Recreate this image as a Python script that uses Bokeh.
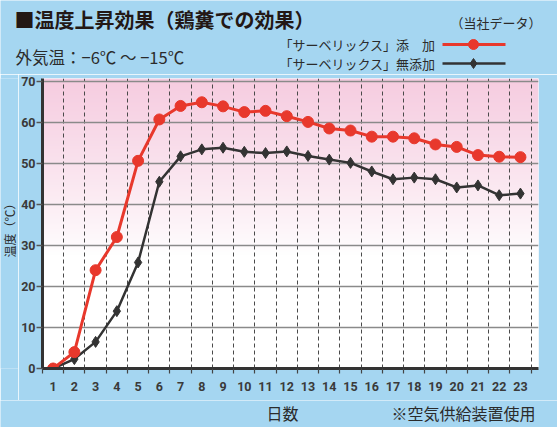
import numpy as np
from bokeh.plotting import figure
from bokeh.layouts import column, row
from bokeh.models import FixedTicker, Range1d
from bokeh.core.properties import value
from bokeh.embed import file_html
from bokeh.resources import INLINE

# ---- data ----
days = list(range(1, 24))
added = [0.0, 4.0, 24.0, 32.1, 50.7, 60.8, 64.1, 65.0, 64.0, 62.6, 62.9, 61.6,
         60.2, 58.6, 58.1, 56.6, 56.6, 56.2, 54.7, 54.1, 52.1, 51.7, 51.6]
no_added = [0.0, 2.3, 6.5, 14.0, 25.9, 45.6, 51.8, 53.5, 53.9, 52.9, 52.6, 53.0,
            51.9, 51.0, 50.2, 48.1, 46.2, 46.6, 46.2, 44.2, 44.7, 42.3, 42.7]
y_ticks = [0, 10, 20, 30, 40, 50, 60, 70]
x_labels = [str(d) for d in days]
series_names = ["「サーベリックス」添\u3000加", "「サーベリックス」無添加"]
title_text = "■温度上昇効果（鶏糞での効果）"
source_text = "（当社データ）"
temp_text = "外気温：−6℃ ～ −15℃"
y_title = "温度（℃）"
x_title = "日数"
note_text = "※空気供給装置使用"

RED = "#e8382c"
BLK = "#333333"
TXT = "#2b2b2b"
SKY = "#a5d6f1"
JP = "Noto Sans CJK JP"
W = 557
YLAB_W = 18
HEAD_H = 74
FOOT_H = 27
TOP_B, BOT_B = 4, 32
MAIN_H = 427 - HEAD_H - FOOT_H          # 326
FRAME_H = MAIN_H - TOP_B - BOT_B        # 290

X0, X1 = 0.5, 23.85
Y0, Y1 = 0.0, 70.8


def panel(w, h, **kw):
    f = figure(width=w, height=h, x_range=Range1d(0, w), y_range=Range1d(h, 0),
               x_axis_type=None, y_axis_type=None, output_backend="svg",
               toolbar_location=None, title=None, **kw)
    f.grid.visible = False
    f.outline_line_color = None
    f.background_fill_color = SKY
    f.border_fill_color = SKY
    return f


# ---- header ----
head = panel(W, HEAD_H, min_border=0)
head.text(x=[14], y=[19], text=[title_text], text_align="left", text_baseline="middle",
          text_font=value(JP), text_font_size=value("20px"), text_font_style="bold",
          text_color="#231815")
head.text(x=[541], y=[22], text=[source_text], text_align="right", text_baseline="middle",
          text_font=value(JP), text_font_size=value("13px"), text_color=TXT)
head.text(x=[15], y=[56], text=[temp_text], text_align="left", text_baseline="middle",
          text_font=value(JP), text_font_size=value("16.5px"), text_color=TXT)
head.text(x=[435, 435], y=[44, 63], text=series_names, text_align="right",
          text_baseline="middle", text_font=value(JP), text_font_size=value("13px"),
          text_color=TXT)
head.segment(x0=[442], y0=[44], x1=[505], y1=[44], line_color=RED, line_width=2.8)
head.segment(x0=[442], y0=[63], x1=[505], y1=[63], line_color=BLK, line_width=2.4)
head.scatter(x=[473], y=[44], marker="circle", size=10, fill_color=RED, line_color=RED)
head.scatter(x=[473], y=[63], marker="diamond", size=10, fill_color=BLK, line_color=BLK)

# ---- y title strip ----
ylab = figure(width=YLAB_W, height=MAIN_H, x_range=Range1d(0, YLAB_W),
              y_range=Range1d(FRAME_H, 0), x_axis_type=None, y_axis_type=None,
              output_backend="svg", toolbar_location=None, title=None,
              min_border_left=0, min_border_right=0, min_border_top=TOP_B,
              min_border_bottom=BOT_B)
ylab.grid.visible = False
ylab.outline_line_color = None
ylab.background_fill_color = SKY
ylab.border_fill_color = SKY
ylab.text(x=[YLAB_W / 2], y=[227 - HEAD_H - TOP_B], text=[y_title], angle=np.pi / 2,
          text_align="center", text_baseline="middle", text_font=value(JP),
          text_font_size=value("12px"), text_color=TXT)

# ---- main chart ----
p = figure(width=W - YLAB_W, height=MAIN_H, output_backend="svg", toolbar_location=None,
           x_range=(X0, X1), y_range=(Y0, Y1), title=None,
           min_border_left=40 - YLAB_W, min_border_right=19, min_border_top=TOP_B,
           min_border_bottom=BOT_B)
p.border_fill_color = SKY
p.background_fill_color = "white"
p.outline_line_color = None

# pink -> white gradient background of the plot area
n = 256
img = np.empty((n, 2), dtype=np.uint32)
view = img.view(dtype=np.uint8).reshape((n, 2, 4))
yy = (np.arange(n) + 0.5) / n * (Y1 - Y0) + Y0
t = np.clip((yy - 28.0) / (Y1 - 28.0), 0, 1) ** 0.85
top = np.array([246, 204, 224])
for k in range(3):
    view[:, :, k] = (255 * (1 - t) + top[k] * t)[:, None].astype(np.uint8)
view[:, :, 3] = 255
p.image_rgba(image=[img], x=X0, y=Y0, dw=X1 - X0, dh=Y1 - Y0, level="image")

# axes
half = [d - 0.5 for d in days] + [23.5]
p.xaxis.ticker = FixedTicker(ticks=days, minor_ticks=half)
p.yaxis.ticker = FixedTicker(ticks=y_ticks, minor_ticks=[])
p.xaxis.major_label_overrides = {d: s for d, s in zip(days, x_labels)}
for ax in (p.xaxis[0], p.yaxis[0]):
    ax.axis_line_color = BLK
    ax.axis_line_width = 3
    ax.major_label_text_font = "Roboto"
    ax.major_label_text_font_style = "bold"
    ax.major_label_text_font_size = "12.5px"
    ax.major_label_text_color = "#3a3a3a"
p.xaxis.major_tick_line_color = None
p.xaxis.major_tick_out = 0
p.xaxis.major_tick_in = 0
p.xaxis.minor_tick_line_color = "#444444"
p.xaxis.minor_tick_line_width = 1.2
p.xaxis.minor_tick_out = 5
p.xaxis.minor_tick_in = 0
p.xaxis.major_label_standoff = 8
p.yaxis.major_tick_line_color = "#555555"
p.yaxis.major_tick_line_width = 1.5
p.yaxis.major_tick_out = 6
p.yaxis.major_tick_in = 0
p.yaxis.minor_tick_line_color = None
p.yaxis.major_label_standoff = 1

# grids
p.xgrid.grid_line_color = None
p.xgrid.minor_grid_line_color = "#4a4a4a"
p.xgrid.minor_grid_line_dash = "4 3"
p.xgrid.minor_grid_line_width = 1
p.ygrid.grid_line_color = "#8a8a8a"
p.ygrid.grid_line_width = 1.5

# series
p.line(days, no_added, line_color=BLK, line_width=2.5)
p.scatter(days, no_added, marker="diamond", size=11, fill_color=BLK, line_color=BLK)
p.line(days, added, line_color=RED, line_width=3)
p.scatter(days, added, marker="circle", size=11, fill_color=RED, line_color=RED)

# ---- footer ----
foot = panel(W, FOOT_H, min_border=0)
foot.text(x=[282], y=[12], text=[x_title], text_align="center", text_baseline="middle",
          text_font=value(JP), text_font_size=value("16px"), text_color=TXT)
foot.text(x=[535], y=[12], text=[note_text], text_align="right", text_baseline="middle",
          text_font=value(JP), text_font_size=value("16px"), text_color=TXT)

layout = column(head, row(ylab, p, spacing=0), foot, spacing=0)
open("out.html", "w").write(file_html(layout, INLINE))
